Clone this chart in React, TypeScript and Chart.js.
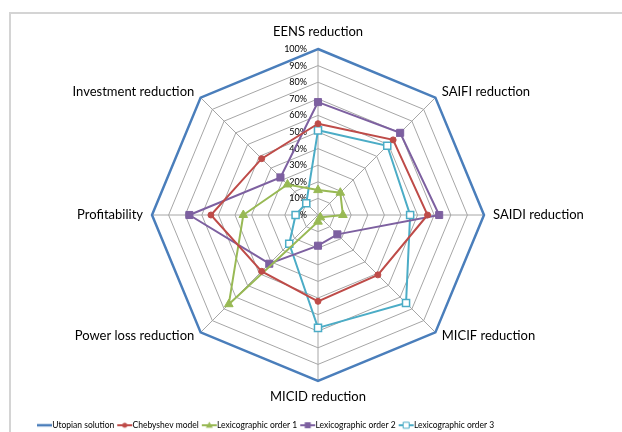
import { useEffect, useRef } from 'react';
import { Chart, registerables } from 'chart.js';

Chart.register(...registerables);

const axisLabels = [
  'EENS reduction',
  'SAIFI reduction',
  'SAIDI reduction',
  'MICIF reduction',
  'MICID reduction',
  'Power loss reduction',
  'Profitability',
  'Investment reduction',
];

const seriesNames = [
  'Utopian solution',
  'Chebyshev model',
  'Lexicographic order 1',
  'Lexicographic order 2',
  'Lexicographic order 3',
];

const utopian = [100, 100, 100, 100, 100, 100, 100, 100];
const chebyshev = [55, 64, 66, 51, 52, 48, 64.5, 48];
const lex1 = [15, 19, 15, 2, 4, 76, 45, 26];
const lex2 = [68, 70, 73, 16.5, 18.5, 41.5, 77.5, 32];
const lex3 = [51, 59, 55.5, 75, 68, 24.5, 13.5, 10];

const tickValues = [0, 10, 20, 30, 40, 50, 60, 70, 80, 90, 100];
const tickLabels = ['0%', '10%', '20%', '30%', '40%', '50%', '60%', '70%', '80%', '90%', '100%'];

const COLORS = ['#4A7EBB', '#BE4B48', '#98B954', '#7D60A0', '#4BACC6'];
const FONT = 'Lato, "Open Sans", sans-serif';

function makeIcon(color: string, style: string, fillMarker: boolean, lw: number) {
  const c = document.createElement('canvas');
  c.width = 21;
  c.height = 12;
  const g = c.getContext('2d')!;
  g.strokeStyle = color;
  g.lineWidth = lw;
  g.beginPath();
  g.moveTo(5, 6);
  g.lineTo(20, 6);
  g.stroke();
  const cx = 12.5;
  const cy = 6;
  g.fillStyle = fillMarker ? color : '#ffffff';
  g.lineWidth = 1;
  g.beginPath();
  if (style === 'circle') {
    g.arc(cx, cy, 2.5, 0, Math.PI * 2);
    g.fill();
  } else if (style === 'triangle') {
    g.moveTo(cx, cy - 3.5);
    g.lineTo(cx + 3.5, cy + 2.5);
    g.lineTo(cx - 3.5, cy + 2.5);
    g.closePath();
    g.fill();
  } else if (style === 'rect') {
    g.rect(cx - 3, cy - 3, 6, 6);
    g.fill();
    if (!fillMarker) {
      g.strokeStyle = color;
      g.stroke();
    }
  }
  return c;
}

const overlayPlugin = {
  id: 'overlay',
  afterLayout(chart: any) {
    const lg = chart.legend;
    if (lg) {
      const w = lg.right - lg.left;
      const h = lg.bottom - lg.top;
      lg.left = 34;
      lg.right = 34 + w;
      lg.top = 418;
      lg.bottom = 418 + h;
    }
  },
  beforeDatasetsDraw(chart: any) {
    const s = chart.scales.r;
    const ctx = chart.ctx;
    ctx.save();
    ctx.font = '9px ' + FONT;
    ctx.fillStyle = '#000';
    ctx.textAlign = 'right';
    ctx.textBaseline = 'middle';
    tickValues.forEach((v, i) => {
      const d = s.getDistanceFromCenterForValue(v);
      ctx.fillText(tickLabels[i], s.xCenter - 11, s.yCenter - d);
    });
    ctx.font = '13px ' + FONT;
    ctx.fillStyle = '#000';
    axisLabels.forEach((lab, i) => {
      const p = s.getPointPosition(i, s.drawingArea + 9);
      const dx = p.x - s.xCenter;
      const dy = p.y - s.yCenter;
      let align = 'center';
      if (dx > 5) align = 'left';
      else if (dx < -5) align = 'right';
      let y = p.y;
      if (Math.abs(dx) <= 5) y += dy < 0 ? -8 : 7;
      else if (dy < -5) y += 1;
      else if (dy > 5) y -= 3;
      ctx.textAlign = align;
      ctx.fillText(lab, p.x, y);
    });
    ctx.restore();
  },
};

export default function App() {
  const ref = useRef<HTMLCanvasElement | null>(null);

  useEffect(() => {
    if (!ref.current) return;
    const icons = [
      makeIcon(COLORS[0], 'none', true, 2.5),
      makeIcon(COLORS[1], 'circle', true, 2),
      makeIcon(COLORS[2], 'triangle', true, 2),
      makeIcon(COLORS[3], 'rect', true, 2),
      makeIcon(COLORS[4], 'rect', false, 2),
    ];
    const series = [utopian, chebyshev, lex1, lex2, lex3];
    const pointStyles = ['circle', 'circle', 'triangle', 'rect', 'rect'];
    const pointRadii = [0, 3, 5, 5, 5];
    const chart = new Chart(ref.current, {
      type: 'radar',
      data: {
        labels: axisLabels,
        datasets: series.map((d, i) => ({
          label: seriesNames[i],
          data: d,
          borderColor: COLORS[i],
          backgroundColor: COLORS[i],
          borderWidth: i === 0 ? 2.5 : 2,
          fill: false,
          pointStyle: pointStyles[i],
          pointRadius: pointRadii[i],
          pointHoverRadius: pointRadii[i],
          pointBackgroundColor: i === 4 ? '#ffffff' : COLORS[i],
          pointBorderColor: COLORS[i],
          pointBorderWidth: i === 4 ? 1.5 : 1,
        })),
      },
      options: {
        responsive: false,
        maintainAspectRatio: false,
        animation: false,
        layout: { padding: { top: 49, bottom: 28, left: 14, right: 0 } },
        scales: {
          r: {
            min: 0,
            max: 100,
            ticks: { display: false, stepSize: 10 },
            grid: { color: '#a6a6a6', lineWidth: 1, circular: false },
            angleLines: { color: '#a6a6a6', lineWidth: 1 },
            pointLabels: { display: false },
          },
        },
        plugins: {
          tooltip: { enabled: false },
          legend: {
            position: 'bottom',
            align: 'start',
            labels: {
              usePointStyle: true,
              pointStyleWidth: 11,
              boxWidth: 11,
              boxHeight: 9,
              padding: 3,
              color: '#000',
              font: { size: 8.5, family: FONT },
              generateLabels: (c: any) => {
                const items = (Chart.defaults.plugins.legend.labels as any).generateLabels(c);
                return items.map((it: any, i: number) => ({ ...it, pointStyle: icons[i] }));
              },
            },
          },
        },
      } as any,
      plugins: [overlayPlugin as any],
    });
    return () => chart.destroy();
  }, []);

  return (
    <div style={{ position: 'absolute', left: 0, top: 0, width: 622, height: 432, background: '#fff', overflow: 'hidden' }}>
      <div
        style={{
          position: 'absolute',
          left: 9,
          top: 12,
          width: 613,
          height: 420,
          borderLeft: '2px solid #d4d4d4',
          borderTop: '2px solid #d4d4d4',
        }}
      />
      <canvas ref={ref} width={622} height={432} style={{ position: 'absolute', left: 0, top: 0, display: 'block' }} />
    </div>
  );
}
